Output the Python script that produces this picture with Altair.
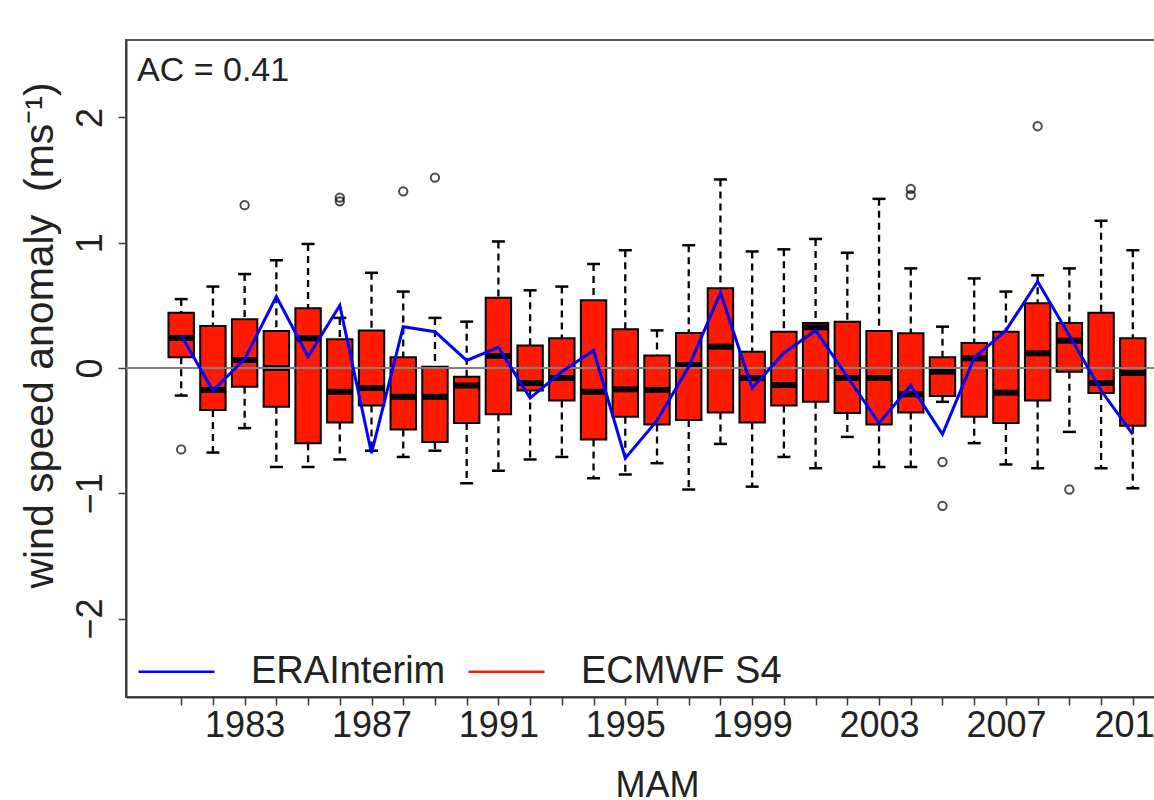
import altair as alt
import pandas as pd

# ---------------- data ----------------
years = list(range(1981, 2012))
upper_whisker = [0.55, 0.65, 0.75, 0.86, 0.99, 0.40, 0.76, 0.61, 0.40, 0.37,
                 1.01, 0.62, 0.65, 0.83, 0.94, 0.30, 0.98, 1.505, 0.93, 0.947,
                 1.03, 0.92, 1.35, 0.795, 0.33, 0.715, 0.61, 0.74, 0.795, 1.175, 0.94]
q3 = [0.44, 0.335, 0.39, 0.295, 0.476, 0.23, 0.30, 0.085, 0.01, -0.07,
      0.56, 0.18, 0.237, 0.54, 0.31, 0.10, 0.28, 0.636, 0.13, 0.29,
      0.36, 0.37, 0.295, 0.277, 0.085, 0.20, 0.29, 0.516, 0.36, 0.44, 0.237]
median = [0.24, -0.175, 0.064, 0.0, 0.237, -0.19, -0.16, -0.23, -0.23, -0.14,
          0.096, -0.12, -0.08, -0.19, -0.17, -0.175, 0.024, 0.17, -0.08, -0.136,
          0.325, -0.08, -0.08, -0.21, -0.03, 0.077, -0.197, 0.117, 0.218, -0.12, -0.04]
q1 = [0.085, -0.335, -0.15, -0.31, -0.60, -0.436, -0.30, -0.49, -0.59, -0.44,
      -0.37, -0.18, -0.26, -0.57, -0.39, -0.45, -0.415, -0.356, -0.436, -0.30,
      -0.27, -0.36, -0.45, -0.356, -0.223, -0.39, -0.44, -0.26, -0.03, -0.20, -0.46]
lower_whisker = [-0.22, -0.675, -0.48, -0.79, -0.79, -0.73, -0.66, -0.71, -0.66, -0.92,
                 -0.82, -0.73, -0.71, -0.88, -0.85, -0.76, -0.97, -0.606, -0.947, -0.71,
                 -0.80, -0.55, -0.79, -0.79, -0.27, -0.60, -0.77, -0.80, -0.51, -0.80, -0.96]
era_interim = [0.26, -0.18, 0.07, 0.57, 0.09, 0.50, -0.68, 0.33, 0.29, 0.06,
               0.165, -0.24, -0.03, 0.14, -0.72, -0.42, 0.01, 0.60, -0.16, 0.12,
               0.30, -0.07, -0.44, -0.14, -0.53, 0.08, 0.30, 0.69, 0.26, -0.18, -0.53]
outlier_years = [1981, 1983, 1986, 1986, 1988, 1989, 2004, 2004, 2005, 2005, 2008, 2009]
outlier_values = [-0.65, 1.30, 1.33, 1.36, 1.41, 1.52, 1.38, 1.43, -0.75, -1.10, 1.93, -0.97]
series_names = ["ERAInterim", "ECMWF S4"]
series_colors = ["#0000ff", "#ff1a00"]
y_ticks = [-2, -1, 0, 1, 2]
x_ticks = list(range(1981, 2012))
ac_label = ["AC = 0.41"]
y_title = "wind speed anomaly\u00a0\u00a0(ms\u207b\u00b9)"
x_title = "MAM"

# ---------------- tables ----------------
box_df = pd.DataFrame({"year": years, "uw": upper_whisker, "q3": q3,
                       "med": median, "q1": q1, "lw": lower_whisker})
era_df = pd.DataFrame({"year": years, "era": era_interim,
                       "series": [series_names[0]] * len(years)})
out_df = pd.DataFrame({"year": outlier_years, "value": outlier_values})
one_df = pd.DataFrame({"zero": [0], "label": ac_label})

# ---------------- layout ----------------
# The plot box is wider than the picture: its right part is cut off,
# as in the reference.  SVG width = 126 + 1062 - 34 = 1154.
W, H = 1062, 657
FONT = "Liberation Sans"
AX = "#3a3a3a"
HALF_BOX = 12.7
HALF_CAP = 6.5

xscale = alt.Scale(domain=[1979.26, 2012.74], nice=False, zero=False)
yscale = alt.Scale(domain=[-2.626, 2.618], nice=False, zero=False)

xaxis = alt.Axis(values=x_ticks, format="d",
                 labelExpr="datum.value % 4 == 3 ? datum.label : ''",
                 labelOverlap=False, labelFlush=False, labelBound=False,
                 grid=False, domainColor=AX, domainWidth=2, tickColor=AX,
                 tickWidth=1.5, tickSize=8, labelFontSize=36, labelPadding=3,
                 labelColor="#222", labelFont=FONT, title=x_title,
                 titleFont=FONT, titleFontSize=36, titleFontWeight="normal",
                 titleColor="#222", titleY=99, titleBaseline="alphabetic")
yaxis = alt.Axis(values=y_ticks, grid=False, domainColor=AX, domainWidth=2,
                 tickColor=AX, tickWidth=1.5, tickSize=8, labelAngle=270,
                 labelAlign="center", labelBaseline="bottom", labelPadding=9,
                 labelFontSize=36, labelColor="#222", labelFont=FONT,
                 title=y_title, titleFont=FONT, titleFontSize=41,
                 titleFontWeight="normal", titleColor="#222", titleAngle=270,
                 titleAlign="center", titleBaseline="alphabetic",
                 titleX=-74, titleY=295)


def X(field="year"):
    return alt.X(f"{field}:Q", scale=xscale, axis=xaxis)


def Y(field):
    return alt.Y(f"{field}:Q", scale=yscale, axis=yaxis)


base = alt.Chart(box_df)

whisk_up = base.mark_rule(color="black", strokeWidth=2.3, strokeDash=[7, 5]).encode(
    x=X(), y=Y("uw"), y2="q3")
whisk_lo = base.mark_rule(color="black", strokeWidth=2.3, strokeDash=[7, 5]).encode(
    x=X(), y=Y("q1"), y2="lw")
cap_up = base.mark_rule(color="black", strokeWidth=2.5,
                        xOffset=-HALF_CAP, x2Offset=HALF_CAP).encode(
    x=X(), x2="year", y=Y("uw"))
cap_lo = base.mark_rule(color="black", strokeWidth=2.5,
                        xOffset=-HALF_CAP, x2Offset=HALF_CAP).encode(
    x=X(), x2="year", y=Y("lw"))
boxes = base.mark_rect(fill=series_colors[1], stroke="black", strokeWidth=2,
                       xOffset=-HALF_BOX, x2Offset=HALF_BOX).encode(
    x=X(), x2="year", y=Y("q3"), y2="q1")
medians = base.mark_rule(color="black", strokeWidth=6,
                         xOffset=-HALF_BOX, x2Offset=HALF_BOX).encode(
    x=X(), x2="year", y=Y("med"))
outliers = alt.Chart(out_df).mark_point(shape="circle", filled=False, size=70,
                                        strokeWidth=2, color="black").encode(
    x=X(), y=Y("value"))
zero_line = alt.Chart(one_df).mark_rule(color="#808080", strokeWidth=2).encode(
    y=Y("zero"))
era_line = alt.Chart(era_df).mark_line(strokeWidth=3).encode(
    x=X(), y=Y("era"),
    color=alt.Color("series:N",
                    scale=alt.Scale(domain=series_names, range=series_colors),
                    legend=alt.Legend(orient="none", legendX=11, legendY=592,
                                      direction="horizontal", title=None,
                                      symbolType="stroke", symbolSize=5776,
                                      symbolStrokeWidth=2.5, labelFontSize=38,
                                      labelFont=FONT, labelColor="#222",
                                      labelOffset=35, columnPadding=17,
                                      padding=0, labelLimit=0)))
ac_text = alt.Chart(one_df).mark_text(align="left", baseline="alphabetic",
                                      fontSize=34, font=FONT, color="#222").encode(
    x=alt.value(11), y=alt.value(41), text="label:N")

chart = alt.layer(whisk_up, whisk_lo, cap_up, cap_lo, boxes, medians, outliers,
                  zero_line, era_line, ac_text).properties(
    width=W, height=H,
    background="white",
    autosize=alt.AutoSizeParams(type="none"),
    padding={"left": 126, "top": 40, "right": -34, "bottom": 103},
).configure_view(stroke="#555", strokeWidth=2, fill="white")

chart.save("out.html", embed_options={"renderer": "svg", "actions": False})
